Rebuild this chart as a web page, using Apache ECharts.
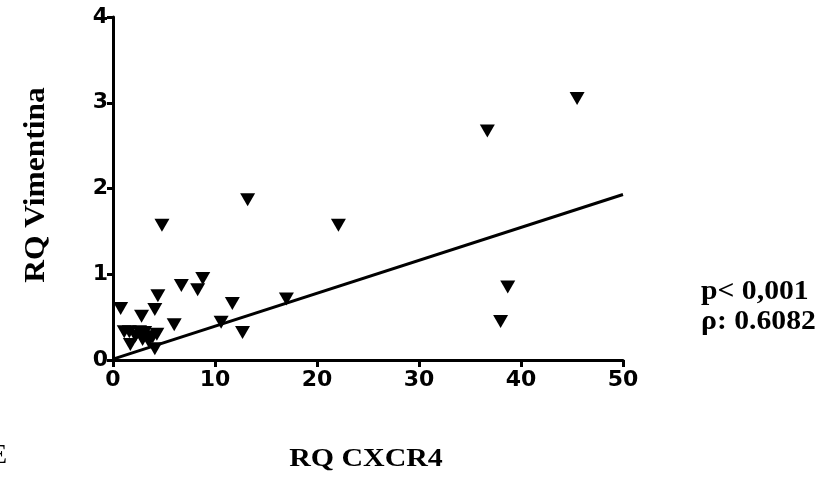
<!DOCTYPE html>
<html>
<head>
<meta charset="utf-8">
<script src="https://cdn.jsdelivr.net/npm/echarts@6/dist/echarts.min.js"></script>
<style>
  html, body { margin: 0; padding: 0; background: #fff; }
  #chart { width: 834px; height: 489px; }
</style>
</head>
<body>
<div id="chart"></div>
<script>
// RQ CXCR4 (x) vs RQ Vimentina (y)
var cxcr4 = [45.5, 36.7, 13.2, 4.8, 22.1, 38.7, 38.0, 8.8, 8.3, 6.7, 4.4, 0.75, 4.1, 2.8, 6.0,
             11.7, 17.0, 10.6, 12.7, 4.1, 1.1, 1.6, 2.6, 3.1, 4.3, 1.7, 2.9, 3.9, 2.2, 3.5];
var vimentina = [3.05, 2.67, 1.87, 1.57, 1.57, 0.85, 0.45, 0.95, 0.82, 0.87, 0.75, 0.60, 0.59, 0.51, 0.41,
                 0.66, 0.71, 0.44, 0.32, 0.13, 0.33, 0.33, 0.33, 0.32, 0.30, 0.18, 0.24, 0.27, 0.28, 0.22];
// linear fit endpoints
var fitX = [0, 50];
var fitY = [0.01, 1.93];

var points = cxcr4.map(function (x, i) { return [x, vimentina[i]]; });
var fit = fitX.map(function (x, i) { return [x, fitY[i]]; });

var chart = echarts.init(document.getElementById('chart'));
var axisFont = { fontFamily: 'DejaVu Sans', fontWeight: 'bold', fontSize: 22, color: '#000' };
var serif = 'Liberation Serif';

chart.setOption({
  animation: false,
  grid: { left: 113, right: 211, top: 17, bottom: 129 },
  xAxis: {
    type: 'value', min: 0, max: 50, interval: 10,
    splitLine: { show: false },
    axisLine: { lineStyle: { color: '#000', width: 3 } },
    axisTick: { length: 7, lineStyle: { color: '#000', width: 3 } },
    axisLabel: Object.assign({ margin: 9 }, axisFont)
  },
  yAxis: {
    type: 'value', min: 0, max: 4, interval: 1,
    splitLine: { show: false },
    axisLine: { show: true, lineStyle: { color: '#000', width: 3 } },
    axisTick: { show: true, length: 6, lineStyle: { color: '#000', width: 3 } },
    axisLabel: Object.assign({ margin: 5 }, axisFont)
  },
  series: [
    {
      type: 'line',
      data: fit,
      symbol: 'none',
      lineStyle: { color: '#000', width: 3 },
      z: 2
    },
    {
      type: 'scatter',
      data: points,
      symbol: 'triangle',
      symbolRotate: 180,
      symbolSize: [15, 13],
      itemStyle: { color: '#000', opacity: 1 },
      z: 3
    }
  ],
  graphic: [
    {
      type: 'text', x: 36, y: 185,
      rotation: Math.PI / 2, scaleX: 1.05,
      style: {
        text: 'RQ Vimentina',
        align: 'center', verticalAlign: 'middle',
        font: 'bold 30px ' + serif, fill: '#000'
      }
    },
    {
      type: 'text', x: 366, y: 459, scaleX: 1.15,
      style: {
        text: 'RQ CXCR4',
        align: 'center', verticalAlign: 'middle',
        font: 'bold 26px ' + serif, fill: '#000'
      }
    },
    {
      type: 'text', x: 701, y: 292, scaleX: 1.1,
      style: {
        text: 'p< 0,001',
        align: 'left', verticalAlign: 'middle',
        font: 'bold 27px ' + serif, fill: '#000'
      }
    },
    {
      type: 'text', x: 701, y: 322, scaleX: 1.1,
      style: {
        text: 'ρ: 0.6082',
        align: 'left', verticalAlign: 'middle',
        font: 'bold 27px ' + serif, fill: '#000'
      }
    },
    {
      type: 'text', x: -10, y: 456,
      style: {
        text: 'E',
        align: 'left', verticalAlign: 'middle',
        font: '28px ' + serif, fill: '#000'
      }
    }
  ]
});
</script>
</body>
</html>
